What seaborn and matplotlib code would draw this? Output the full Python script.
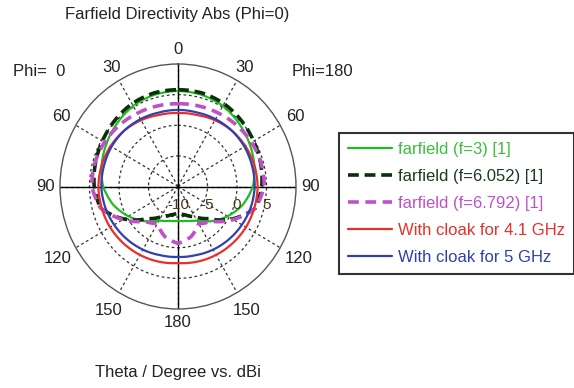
import numpy as np
import pandas as pd
import matplotlib
matplotlib.use("Agg")
import matplotlib.pyplot as plt
import seaborn as sns

# theta in degrees (same values used on the Phi=0 and Phi=180 halves)
theta_deg = [0, 15, 30, 45, 60, 75, 90, 105, 120, 135, 150, 165, 180]

# directivity in dBi
f3 = [5.6, 5.5, 5.2, 4.6, 4.0, 3.4, 2.7, 1.4, -0.3, -2.0, -3.6, -4.2, -4.4]
f6052 = [5.8, 5.8, 5.6, 5.2, 4.8, 4.5, 4.2, 3.6, 0.6, -2.6, -4.3, -5.2, -5.7]
f6792 = [3.5, 3.6, 3.8, 4.1, 4.4, 4.6, 4.6, 3.6, 0.8, -2.0, -3.0, -1.5, -0.7]
cloak41 = [2.0, 2.1, 2.5, 2.9, 3.2, 3.4, 3.5, 3.4, 3.3, 3.1, 2.9, 2.7, 2.5]
cloak5 = [2.5, 2.5, 2.7, 2.9, 3.0, 3.0, 3.0, 2.8, 2.5, 2.2, 1.9, 1.6, 1.5]

labels = ["farfield (f=3) [1]", "farfield (f=6.052) [1]", "farfield (f=6.792) [1]",
          "With cloak for 4.1 GHz", "With cloak for 5 GHz"]
colors = ["#22bb22", "#0a300a", "#c050c8", "#e8302a", "#3040b0"]
text_colors = ["#3cc03c", "#1e3a1e", "#c050c8", "#e8302a", "#3040b0"]

theta_ticks = [0, 30, 60, 90, 120, 150, 180]
r_ticks = [-10, -5, 0, 5]


def closed_curve(values):
    """Right half (Phi=180) then left half (Phi=0) back to the top."""
    th = np.array(theta_deg, dtype=float)
    v = np.array(values, dtype=float)
    ang = np.concatenate([th, 360 - th[::-1][1:]])
    r = np.concatenate([v, v[::-1][1:]])
    return pd.DataFrame({"ang": np.deg2rad(ang), "r": r})


sns.set_style("white")
plt.rcParams["font.family"] = ["Liberation Sans", "DejaVu Sans"]

fig = plt.figure(figsize=(5.74, 3.88), dpi=100)
ax = fig.add_axes([60 / 574, 1 - 309 / 388, 236 / 574, 245 / 388], projection="polar")
ax.set_aspect("auto")
ax.set_theta_zero_location("N")
ax.set_theta_direction(-1)
ax.set_ylim(-10, 10)

ax.set_thetagrids(np.arange(0, 360, 30), labels=[""] * 12)
ax.set_rgrids([-5, 0, 5], labels=["", "", ""])
ax.grid(True, color="#333333", linewidth=0.9, linestyle=(0, (2.2, 2.2)))
ax.spines["polar"].set_color("#555555")
ax.spines["polar"].set_linewidth(1.0)
for a in [0, 90, 180, 270]:
    ax.axvline(np.deg2rad(a), color="black", linewidth=1.0, zorder=1.5)

series = [f3, f6052, f6792, cloak41, cloak5]
styles = ["-", (0, (3, 1.6)), (0, (3, 1.8)), "-", "-"]
widths = [1.6, 2.6, 2.6, 1.6, 1.6]
n_before = len(ax.lines)
for vals, lab, col, ls, lw in zip(series, labels, colors, styles, widths):
    sns.lineplot(data=closed_curve(vals), x="ang", y="r", sort=False, estimator=None,
                 color=col, linestyle=ls, linewidth=lw, label=lab, ax=ax)
# draw segments as curves in polar space rather than straight chords
for line in ax.lines[n_before:]:
    line.get_path()._interpolation_steps = 24
ax.set_xlabel("")
ax.set_ylabel("")

# theta labels on both halves
dist = {0: 1.115, 30: 1.125, 60: 1.145, 90: 1.125, 120: 1.18, 150: 1.17, 180: 1.113}
for t in theta_ticks:
    r = -10 + 20 * dist[t]
    for a in {t, (360 - t) % 360}:
        ax.text(np.deg2rad(a), r, str(t), ha="center", va="center",
                fontsize=12, color="#222222", clip_on=False)

# radial labels under the horizontal axis
for rv in r_ticks:
    ax.annotate(str(rv), xy=(np.pi / 2, rv), xytext=(0, -13), textcoords="offset points",
                ha="center", va="center", fontsize=11, color="#4a3518")

fig.text(177.5 / 574, 1 - 15 / 388, "Farfield Directivity Abs (Phi=0)", ha="center",
         va="center", fontsize=12, color="#222222")
fig.text(39 / 574, 1 - 71 / 388, "Phi=  0", ha="center", va="center", fontsize=12, color="#222222")
fig.text(322 / 574, 1 - 71 / 388, "Phi=180", ha="center", va="center", fontsize=12, color="#222222")
fig.text(178 / 574, 1 - 372 / 388, "Theta / Degree vs. dBi", ha="center", va="center",
         fontsize=12, color="#222222")

leg = ax.legend(loc="upper left", bbox_to_anchor=(339 / 574, 1 - 133 / 388),
                bbox_transform=fig.transFigure, borderaxespad=0, frameon=True,
                fancybox=False, edgecolor="black", fontsize=12, handlelength=2.6,
                handletextpad=0.4, labelspacing=0.72, borderpad=0.55)
leg.get_frame().set_linewidth(1.5)
for txt, c in zip(leg.get_texts(), text_colors):
    txt.set_color(c)

fig.savefig("out.png", dpi=100)
